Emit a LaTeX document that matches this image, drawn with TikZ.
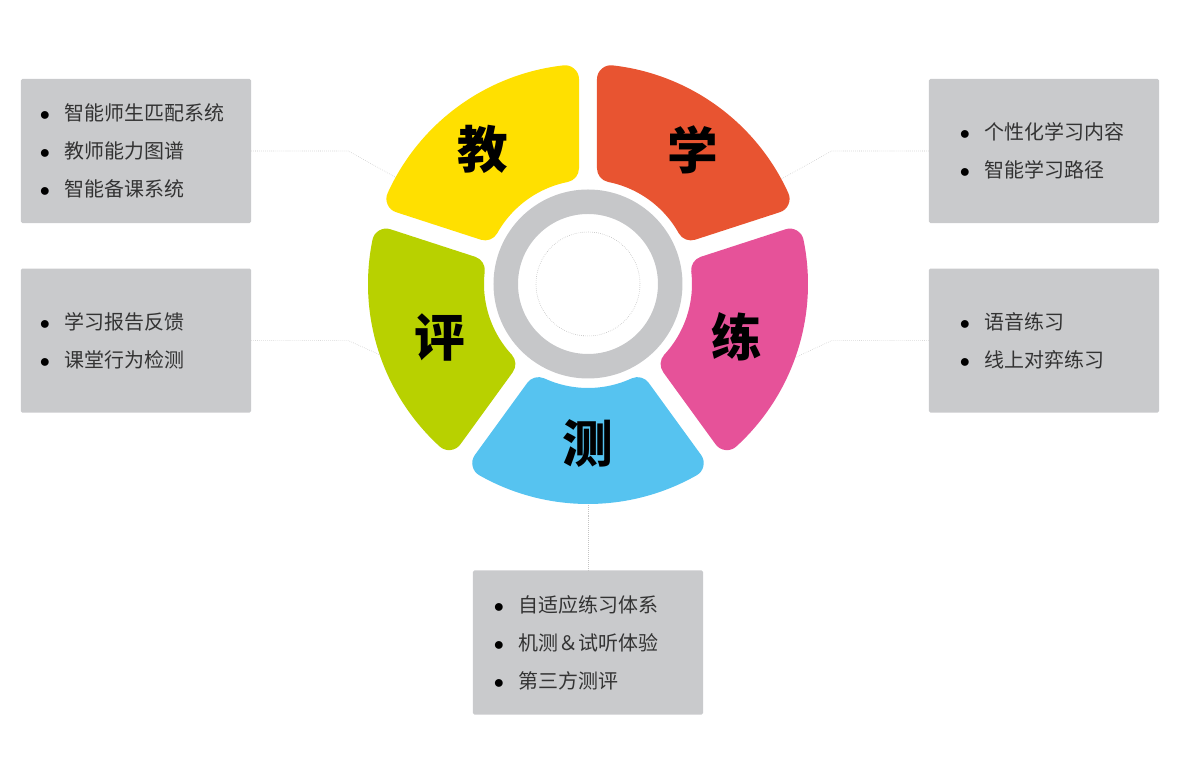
\documentclass[tikz,border=0pt]{standalone}
\usepackage{fontspec}
\setmainfont{Noto Sans CJK SC}
\usepackage{xcolor}
\definecolor{jiaoYellow}{HTML}{FFE000}
\definecolor{xueRed}{HTML}{E85431}
\definecolor{lianPink}{HTML}{E65299}
\definecolor{ceBlue}{HTML}{56C3F0}
\definecolor{pingGreen}{HTML}{B8D100}
\definecolor{ringGray}{HTML}{C6C7C9}
\definecolor{boxGray}{HTML}{C9CACC}
\definecolor{textGray}{HTML}{333333}
\definecolor{linkGray}{HTML}{C4C4C4}
\usetikzlibrary{positioning}

% one coloured piece of the wheel, centred on angle #1
% (shrunk outline, then a thick round-joined stroke gives the round corners)
\newcommand{\wheelpart}[2]{%
	\filldraw[fill=#2, draw=#2, line width=0.7cm, line join=round]
		(#1-36+11.24:118) -- (#1-36+6.41:206)
		arc[start angle=#1-36+6.41, end angle=#1+36-6.41, radius=206]
		-- (#1+36-11.24:118)
		arc[start angle=#1+36-11.24, end angle=#1-36+11.24, radius=118] -- cycle;}
\newcommand{\itm}[1]{\makebox[0.62cm][l]{\color{black}$\bullet$}#1}

\begin{document}
\begin{tikzpicture}[
		x=0.025cm, y=0.025cm,
		infobox/.style={
			fill=boxGray,
			rounded corners=1pt,
			minimum width=5.75cm,
			minimum height=3.6cm,
			inner sep=0pt
		},
		itemlist/.style={
			align=left,
			inner sep=0pt,
			text=textGray,
			font=\fontsize{14.2}{27}\selectfont
		},
		bigchar/.style={font=\fontsize{36}{36}\selectfont\bfseries},
		link/.style={draw=linkGray, densely dotted, line width=0.4pt}
		]
		\useasboundingbox (-588,-496) rectangle (592,284);
		
		% boxes
		\node[infobox] (jiaobox) at (-452,133) {};
		\node[infobox, below=1.125cm of jiaobox] (pingbox) {};
		\node[infobox] (xuebox) at (456,133) {};
		\node[infobox, below=1.125cm of xuebox] (lianbox) {};
		\node[infobox] (cebox) at (0,-358.5) {};
		
		\node[itemlist, right=0.47cm of jiaobox.west] (jiaolist) {\itm{智能师生匹配系统}\\ \itm{教师能力图谱}\\ \itm{智能备课系统}};
		\node[itemlist, right=0.47cm of pingbox.west] (pinglist) {\itm{学习报告反馈}\\ \itm{课堂行为检测}};
		\node[itemlist, right=0.77cm of xuebox.west] (xuelist) {\itm{个性化学习内容}\\ \itm{智能学习路径}};
		\node[itemlist, right=0.77cm of lianbox.west] (lianlist) {\itm{语音练习}\\ \itm{线上对弈练习}};
		\node[itemlist, right=0.52cm of cebox.west] (celist) {\itm{自适应练习体系}\\ \itm{机测＆试听体验}\\ \itm{第三方测评}};
		
		% connectors
		\coordinate (jiaotip) at (151:220);
		\coordinate (pingtip) at (199:219);
		\coordinate (xuetip) at (28.5:220);
		\coordinate (liantip) at (-19.5:220);
		\coordinate (cetip) at (-90:219);
		\draw[link] (jiaobox.east) -- ++(97,0) -- (jiaotip);
		\draw[link] (pingbox.east) -- ++(97,0) -- (pingtip);
		\draw[link] (xuebox.west) -- ++(-97,0) -- (xuetip);
		\draw[link] (lianbox.west) -- ++(-97,0) -- (liantip);
		\draw[link] (cebox.north) -- (cetip);
		
		% wheel
		\wheelpart{126}{jiaoYellow}
		\wheelpart{54}{xueRed}
		\wheelpart{-18}{lianPink}
		\wheelpart{-90}{ceBlue}
		\wheelpart{198}{pingGreen}
		\fill[ringGray, even odd rule] (0,0) circle[radius=94.5] circle[radius=70];
		\draw[gray!60, densely dotted, line width=0.4pt] (0,0) circle[radius=52];
		
		\node[bigchar] (jiao) at (-105,135) {教};
		\node[bigchar] (xue) at (105,134) {学};
		\node[bigchar] (lian) at (149,-53) {练};
		\node[bigchar] (ce) at (0,-159) {测};
		\node[bigchar] (ping) at (-148,-53) {评};
		
	\end{tikzpicture}
\end{document}
